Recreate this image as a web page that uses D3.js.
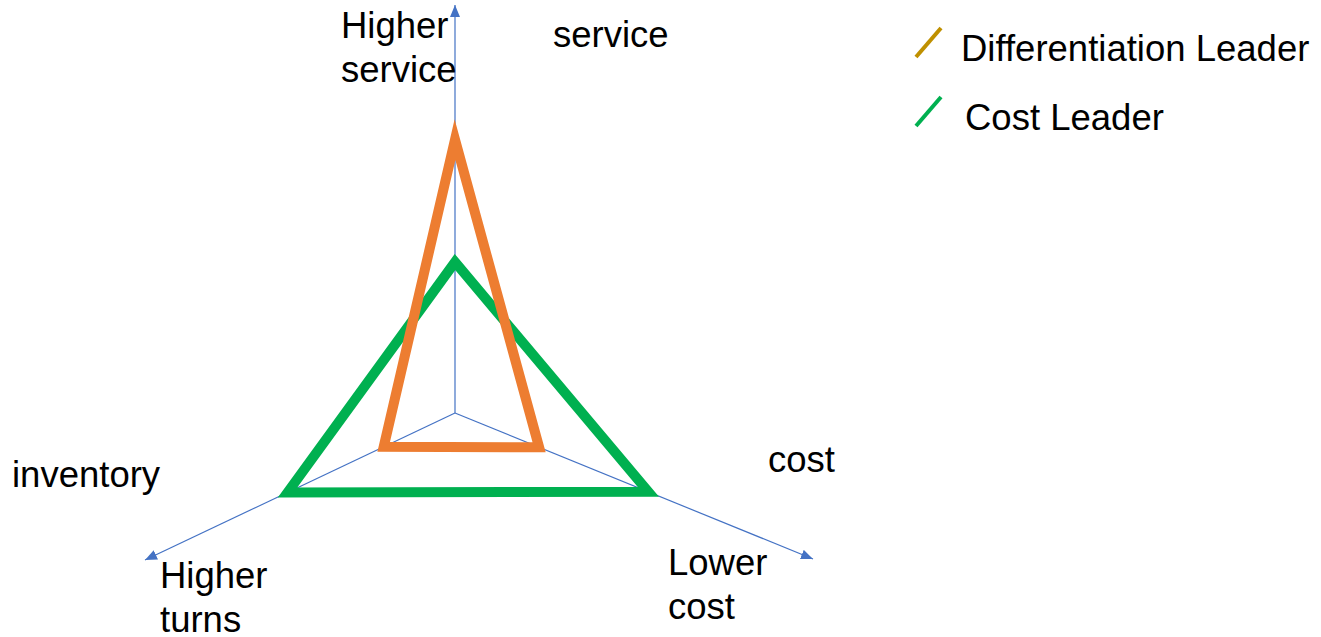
<!DOCTYPE html>
<html lang="en">
<head>
<meta charset="UTF-8">
<script src="https://d3js.org/d3.v7.min.js"></script>
<title>Differentiation vs Cost Leader</title>
<style>
  body { margin: 0; background: #ffffff; }
  svg text { font-family: Arial, "Liberation Sans", sans-serif; font-size: 36.5px; fill: #000; }
</style>
</head>
<body>
<div id="chart"></div>
<script>
  // data
  const axisNames = ["service", "cost", "inventory"];
  const diffLeader = [6.7, 2.35, 2.3];
  const costLeader = [3.7, 5.4, 5.4];
  const seriesNames = ["Differentiation Leader", "Cost Leader"];
  const maxValue = 10;

  const width = 1321, height = 637;
  const cx = 455, cy = 413;

  // axis directions (degrees, screen coords) and pixel lengths to the arrow tip
  const axisGeom = [
    { angle: -90, len: 408 },
    { angle: Math.atan2(146, 358) * 180 / Math.PI, len: Math.hypot(358, 146) },
    { angle: 180 - Math.atan2(147, 310) * 180 / Math.PI, len: Math.hypot(310, 147) }
  ];
  const rScales = axisGeom.map(a => d3.scaleLinear().domain([0, maxValue]).range([0, a.len]));

  function pt(i, v) {
    const a = axisGeom[i].angle * Math.PI / 180;
    const r = rScales[i](v);
    return [cx + r * Math.cos(a), cy + r * Math.sin(a)];
  }

  const svg = d3.select("#chart").append("svg")
    .attr("width", width).attr("height", height);

  svg.append("defs").append("marker")
    .attr("id", "arrow")
    .attr("markerUnits", "userSpaceOnUse")
    .attr("viewBox", "0 0 12 10")
    .attr("refX", 12).attr("refY", 5)
    .attr("markerWidth", 12).attr("markerHeight", 10)
    .attr("orient", "auto")
    .append("path")
    .attr("d", "M0,0 L12,5 L0,10 Z")
    .attr("fill", "#4472C4");

  // axes
  svg.append("g").selectAll("line")
    .data(axisNames)
    .join("line")
    .attr("x1", cx).attr("y1", cy)
    .attr("x2", (d, i) => pt(i, maxValue)[0])
    .attr("y2", (d, i) => pt(i, maxValue)[1])
    .attr("stroke", "#4472C4")
    .attr("stroke-width", 1.2)
    .attr("marker-end", "url(#arrow)");

  const line = d3.line().curve(d3.curveLinearClosed);

  const series = [
    { name: seriesNames[0], values: diffLeader, color: "#ED7D31" },
    { name: seriesNames[1], values: costLeader, color: "#00B050" }
  ];

  svg.append("g").selectAll("path")
    .data(series.slice().reverse())
    .join("path")
    .attr("d", s => line(s.values.map((v, i) => pt(i, v))))
    .attr("fill", "none")
    .attr("stroke", s => s.color)
    .attr("stroke-width", 10)
    .attr("stroke-linejoin", "miter")
    .attr("stroke-miterlimit", 10);

  // axis labels
  const labels = [
    { lines: ["Higher", "service"], x: 341, y: 38 },
    { lines: ["service"], x: 553, y: 47 },
    { lines: ["cost"], x: 768, y: 472 },
    { lines: ["inventory"], x: 12, y: 487 },
    { lines: ["Higher", "turns"], x: 160, y: 588 },
    { lines: ["Lower", "cost"], x: 668, y: 575 }
  ];
  labels.forEach(l => {
    const t = svg.append("text").attr("x", l.x).attr("y", l.y);
    l.lines.forEach((s, k) => {
      t.append("tspan").attr("x", l.x).attr("dy", k === 0 ? 0 : 44).text(s);
    });
  });

  // legend
  const legendColors = ["#BF9000", "#00B050"];
  const legend = svg.append("g").selectAll("g")
    .data(seriesNames)
    .join("g")
    .attr("transform", (d, i) => `translate(0,${i * 69})`);
  legend.append("line")
    .attr("x1", 916).attr("y1", 57)
    .attr("x2", 941).attr("y2", 28)
    .attr("stroke", (d, i) => legendColors[i])
    .attr("stroke-width", 4);
  legend.append("text")
    .attr("x", (d, i) => i === 0 ? 961 : 965)
    .attr("y", 61)
    .text(d => d);
</script>
</body>
</html>
